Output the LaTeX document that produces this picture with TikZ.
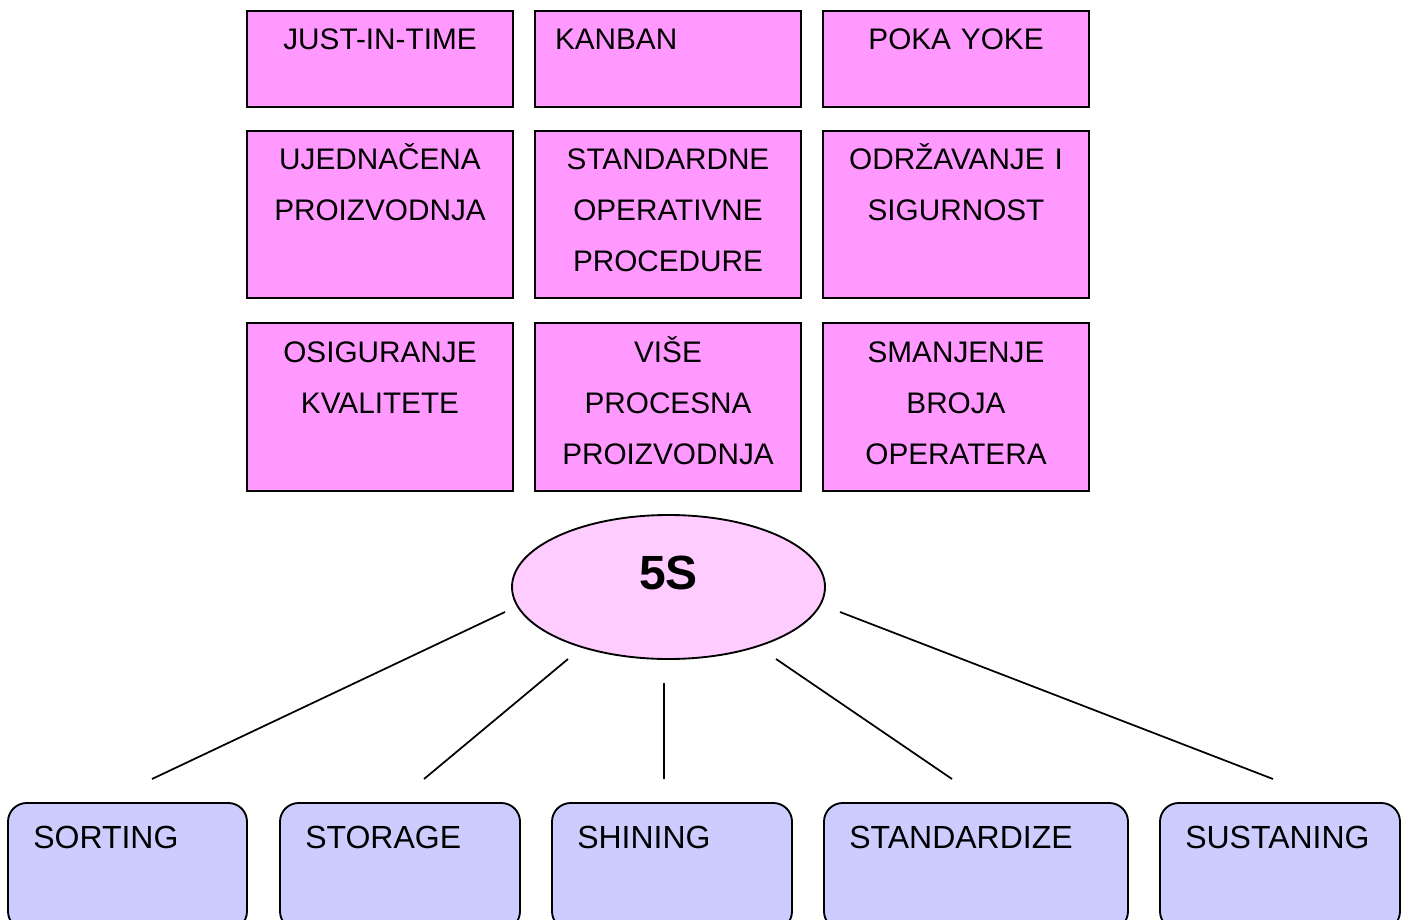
\documentclass[tikz,border=0pt]{standalone}
\usepackage{fontspec}
\setmainfont{Liberation Sans}
\usepackage{tikz}
\usepackage{xcolor}
\usetikzlibrary{shapes.geometric}

\definecolor{boxpink}{HTML}{FF99FF}
\definecolor{ovalpink}{HTML}{FFCCFF}
\definecolor{boxblue}{HTML}{CCCCFF}

\begin{document}
\begin{tikzpicture}[x=0.75pt,y=-0.75pt,
	topbox/.style={draw, line width=1.4pt, fill=boxpink, inner sep=0pt, minimum width=199.5pt, minimum height=#1},
	toptext/.style={anchor=base, inner sep=0pt, text width=199.5pt, align=center, font=\fontsize{22.3}{38.25}\selectfont},
	pillar/.style={draw, line width=1.4pt, fill=boxblue, rounded corners=14pt, inner sep=0pt, minimum width=#1, minimum height=95.25pt},
	pillartext/.style={anchor=base west, inner sep=0pt, font=\fontsize{24}{28}\selectfont}]
	\useasboundingbox (0,0) rectangle (1406,920);
	\clip (0,0) rectangle (1406,920);

	\node[topbox=72pt] (jit) at (380,59) {};
	\node[topbox=72pt] (kanban) at (668,59) {};
	\node[topbox=72pt] (pokayoke) at (956,59) {};
	\node[topbox=125.25pt] (ujednacena) at (380,214.5) {};
	\node[topbox=125.25pt] (sop) at (668,214.5) {};
	\node[topbox=125.25pt] (odrzavanje) at (956,214.5) {};
	\node[topbox=126pt] (kvaliteta) at (380,407) {};
	\node[topbox=126pt] (visepro) at (668,407) {};
	\node[topbox=126pt] (operateri) at (956,407) {};

	\node[toptext] (jit-t) at (380,50) {JUST-IN-TIME};
	\node[toptext, align=left, text width=184.5pt] (kanban-t) at (678,50) {KANBAN};
	\node[toptext] (pokayoke-t) at (956,50) {POKA YOKE};
	\node[toptext] (ujednacena-t) at (380,170) {UJEDNAČENA\\PROIZVODNJA};
	\node[toptext] (sop-t) at (668,170) {STANDARDNE\\OPERATIVNE\\PROCEDURE};
	\node[toptext] (odrzavanje-t) at (956,170) {ODRŽAVANJE I\\SIGURNOST};
	\node[toptext] (kvaliteta-t) at (380,362) {OSIGURANJE\\KVALITETE};
	\node[toptext] (visepro-t) at (668,362) {VIŠE\\PROCESNA\\PROIZVODNJA};
	\node[toptext] (operateri-t) at (956,362) {SMANJENJE\\BROJA\\OPERATERA};

	\node[ellipse, draw, line width=1.4pt, fill=ovalpink, inner sep=0pt, minimum width=234.75pt, minimum height=108pt] (fives) at (668.5,587) {};
	\node[anchor=base, inner sep=0pt, font=\fontsize{36}{40}\selectfont\bfseries] (fives-t) at (668.5,589) {5S};

	\node[pillar=179.25pt] (sorting) at (127.5,866.5) {};
	\node[pillar=180pt] (storage) at (400,866.5) {};
	\node[pillar=180pt] (shining) at (672,866.5) {};
	\node[pillar=228pt] (standardize) at (976,866.5) {};
	\node[pillar=180pt] (sustaning) at (1280,866.5) {};

	\node[pillartext] (sorting-t) at (33,848) {SORTING};
	\node[pillartext] (storage-t) at (305,848) {STORAGE};
	\node[pillartext] (shining-t) at (577,848) {SHINING};
	\node[pillartext] (standardize-t) at (849,848) {STANDARDIZE};
	\node[pillartext] (sustaning-t) at (1185,848) {SUSTANING};

	\coordinate (oval1) at (505,612);
	\coordinate (oval2) at (568,659);
	\coordinate (oval3) at (664,683);
	\coordinate (oval4) at (776,659);
	\coordinate (oval5) at (840,612);
	\coordinate (sorting-up) at (152,779);
	\coordinate (storage-up) at (424,779);
	\coordinate (shining-up) at (664,779);
	\coordinate (standardize-up) at (952,779);
	\coordinate (sustaning-up) at (1273,779);

	\draw[line width=1.3pt] (oval1) -- (sorting-up);
	\draw[line width=1.3pt] (oval2) -- (storage-up);
	\draw[line width=1.3pt] (oval3) -- (shining-up);
	\draw[line width=1.3pt] (oval4) -- (standardize-up);
	\draw[line width=1.3pt] (oval5) -- (sustaning-up);
\end{tikzpicture}
\end{document}
